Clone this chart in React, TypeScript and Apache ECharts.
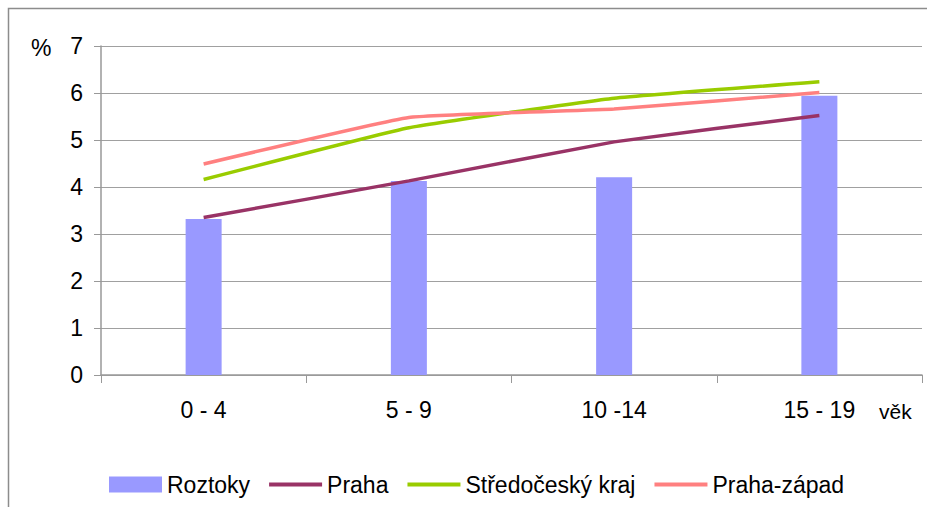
import React, { useEffect, useRef } from "react";
import * as echarts from "echarts";

const categories = ["0 - 4", "5 - 9", "10 -14", "15 - 19"];
const roztoky = [3.32, 4.13, 4.21, 5.94];
const praha = [3.35, 4.13, 4.96, 5.52];
const stredocesky = [4.16, 5.26, 5.89, 6.24];
const prahaZapad = [4.49, 5.48, 5.66, 6.01];
const yTicks = { min: 0, max: 7, interval: 1 };

const FONT = "Liberation Sans, Arial, sans-serif";
const FS = 23;

export default function App() {
  const ref = useRef<HTMLDivElement>(null);
  useEffect(() => {
    if (!ref.current) return;
    const chart = echarts.init(ref.current, undefined, { renderer: "svg" });
    const lineSeries = (name: string, data: number[], color: string) => ({
      name,
      type: "line",
      data,
      symbol: "none",
      smooth: 0.1,
      lineStyle: { color, width: 3.5 },
      itemStyle: { color },
      z: 3,
    });
    chart.setOption({
      animation: false,
      backgroundColor: "#ffffff",
      textStyle: { fontFamily: FONT },
      grid: { left: 101, top: 46, right: 5, bottom: 132 },
      graphic: [
        {
          type: "rect",
          shape: { x: 8.5, y: 8.5, width: 1000, height: 1000 },
          style: { fill: "none", stroke: "#8c8c8c", lineWidth: 1.5 },
          silent: true,
        },
        {
          type: "text",
          x: 31,
          y: 36,
          style: { text: "%", fontSize: FS, fontFamily: FONT, fill: "#000" },
        },
        {
          type: "text",
          x: 879,
          y: 401,
          style: { text: "věk", fontSize: 21, fontFamily: FONT, fill: "#000" },
        },
      ],
      legend: {
        left: 109,
        top: 473,
        padding: 0,
        itemWidth: 53,
        itemHeight: 16,
        itemGap: 17,
        textStyle: { fontSize: FS, fontFamily: FONT, color: "#000" },
        data: [
          { name: "Roztoky", icon: "rect" },
          { name: "Praha", itemStyle: { opacity: 0 }, lineStyle: { width: 4 } },
          { name: "Středočeský kraj", itemStyle: { opacity: 0 }, lineStyle: { width: 4 } },
          { name: "Praha-západ", itemStyle: { opacity: 0 }, lineStyle: { width: 4 } },
        ],
      },
      xAxis: {
        type: "category",
        data: categories,
        boundaryGap: true,
        axisLine: { show: true, lineStyle: { color: "#999999", width: 1.5 } },
        axisTick: { show: true, length: 8, lineStyle: { color: "#999999" } },
        axisLabel: { fontSize: FS, color: "#000", margin: 23, fontFamily: FONT },
        splitLine: { show: false },
      },
      yAxis: {
        type: "value",
        min: yTicks.min,
        max: yTicks.max,
        interval: yTicks.interval,
        axisLine: { show: true, lineStyle: { color: "#999999", width: 1.5 } },
        axisTick: { show: true, length: 7, lineStyle: { color: "#999999" } },
        axisLabel: { fontSize: FS, color: "#000", margin: 18, fontFamily: FONT },
        splitLine: { show: true, lineStyle: { color: "#a0a0a0", width: 1.2 } },
      },
      series: [
        {
          name: "Roztoky",
          type: "bar",
          data: roztoky,
          barWidth: 36,
          itemStyle: { color: "#9999ff" },
          z: 2,
        },
        lineSeries("Praha", praha, "#993366"),
        lineSeries("Středočeský kraj", stredocesky, "#99cc00"),
        lineSeries("Praha-západ", prahaZapad, "#ff8080"),
      ],
    });
    return () => chart.dispose();
  }, []);
  return (
    <div
      ref={ref}
      style={{ position: "fixed", left: 0, top: 0, width: 927, height: 507 }}
    />
  );
}
